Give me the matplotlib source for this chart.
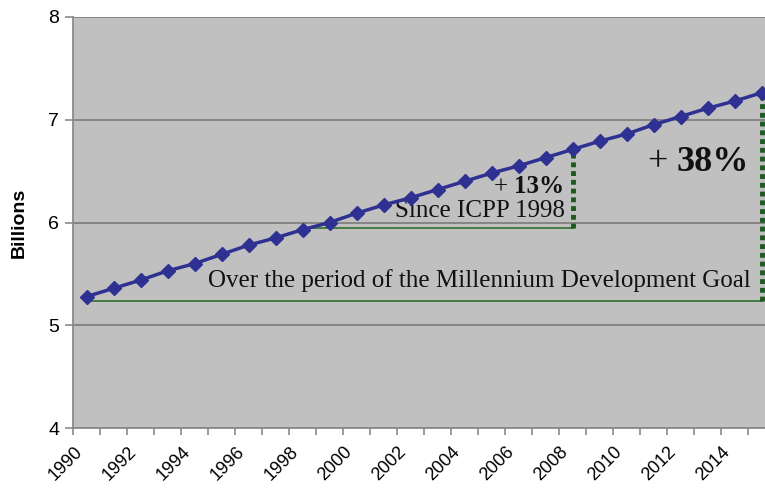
import numpy as np
import matplotlib
matplotlib.use("Agg")
import matplotlib.pyplot as plt

# World population, billions
years = list(range(1990, 2016))
population = [5.28, 5.36, 5.44, 5.53, 5.60, 5.69, 5.78, 5.85, 5.93, 6.00,
              6.09, 6.17, 6.24, 6.32, 6.40, 6.48, 6.55, 6.63, 6.71, 6.79,
              6.86, 6.95, 7.03, 7.11, 7.18, 7.26]
tick_years = list(range(1990, 2016, 2))
y_ticks = [4, 5, 6, 7, 8]

# annotation levels
mdg_base = 5.235
icpp_base = 5.945
icpp_start, icpp_end = 1998, 2008
mdg_start, mdg_end = 1990, 2015

fig = plt.figure(figsize=(7.65, 4.9), dpi=100)
ax = fig.add_axes([73 / 765, 1 - 428.3 / 490, 702 / 765, (428.3 - 16.7) / 490])
ax.set_facecolor("#c0c0c0")

ax.plot(years, population, color="#2e3192", linewidth=2.5, marker="D",
        markersize=7.5, markerfacecolor="#2e3192", markeredgecolor="#2e3192",
        zorder=5, clip_on=False)

ax.set_xlim(1989.5, 2015.5)
ax.set_ylim(4, 8)
ax.set_yticks(y_ticks)
ax.set_yticklabels([str(v) for v in y_ticks], family="Liberation Sans", fontsize=14)
# rotated labels sit with their top-right corner just left of each category
ax.set_xticks([y - 0.48 for y in tick_years])
ax.set_xticklabels([str(y) for y in tick_years], family="Liberation Sans",
                   fontsize=13, rotation=45, ha="right", rotation_mode="anchor")
ax.set_xticks(np.arange(1989.5, 2015.6, 1), minor=True)
ax.tick_params(axis="x", which="major", length=0, pad=11)
ax.tick_params(axis="x", which="minor", length=5, color="#8a8a8a", width=1.2)
ax.tick_params(axis="y", length=6, color="#8a8a8a", width=1.2, pad=4)
ax.yaxis.grid(True, color="#857f7f", linewidth=1.3)
ax.set_axisbelow(True)
for s in ["top", "right"]:
    ax.spines[s].set_visible(False)
for s in ["left", "bottom"]:
    ax.spines[s].set_color("#8a8a8a")
    ax.spines[s].set_linewidth(1.3)

ax.set_ylabel("Billions", family="Liberation Sans", fontweight="bold", fontsize=14, labelpad=15)

# annotation lines
green = "#2f6f2f"
ax.plot([mdg_start, mdg_end], [mdg_base, mdg_base], color=green, linewidth=1.2, zorder=3, clip_on=False)
ax.plot([icpp_start, icpp_end], [icpp_base, icpp_base], color=green, linewidth=1.2, zorder=3)
ax.plot([mdg_end, mdg_end], [mdg_base, population[-1]], color="#1d5a1d", linewidth=3.5,
        linestyle=(0, (1, 0.8)), dash_capstyle="butt", zorder=4, clip_on=False)
ax.plot([icpp_end, icpp_end], [icpp_base, population[years.index(icpp_end)]], color="#1d5a1d",
        linewidth=3.5, linestyle=(0, (1, 0.8)), dash_capstyle="butt", zorder=4)

serif = "Liberation Serif"
t13 = ax.text(2007.7, 6.29, "13%", family=serif, fontweight="bold", fontsize=18,
              ha="right", va="baseline", color="#111111")
ax.annotate("+ ", xy=(0, 0), xycoords=t13, ha="right", va="bottom",
            family=serif, fontsize=18, color="#111111")
ax.text(2007.7, 6.05, "Since ICPP 1998", family=serif, fontsize=18,
        ha="right", va="baseline", color="#111111")
t38 = ax.text(2014.55, 6.50, "38%", family=serif, fontweight="bold", fontsize=26,
              ha="right", va="baseline", color="#111111")
ax.annotate("+ ", xy=(0, 0), xycoords=t38, ha="right", va="bottom",
            family=serif, fontsize=26, color="#111111")
ax.text(2014.6, 5.37, "Over the period of the Millennium Development Goal", family=serif,
        fontsize=18, ha="right", va="baseline", color="#111111")

fig.savefig("out.png", dpi=100)
